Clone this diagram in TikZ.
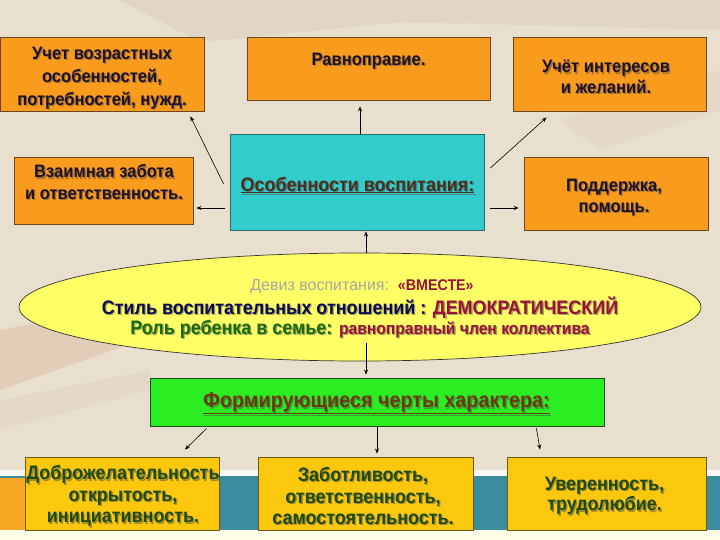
\documentclass[tikz,border=0pt]{standalone}
\usepackage{fontspec}
\setmainfont{Liberation Sans}
\newfontfamily\hb{Liberation Sans Bold}[FakeStretch=0.92]
\usetikzlibrary{arrows.meta,shapes.geometric}
\definecolor{bgbeige}{HTML}{E9DFCF}
\definecolor{bgtan}{HTML}{C9B49A}
\definecolor{pencil}{HTML}{D49A7A}
\definecolor{oran}{HTML}{F99B1C}
\definecolor{obord}{HTML}{6A4620}
\definecolor{cyanbox}{HTML}{33CCCC}
\definecolor{cbord}{HTML}{2A6A6A}
\definecolor{yel}{HTML}{FFFF66}
\definecolor{grn}{HTML}{2AEE22}
\definecolor{gbord}{HTML}{1F4A1A}
\definecolor{gold}{HTML}{FCC80E}
\definecolor{gdbord}{HTML}{6B5A20}
\definecolor{tealband}{HTML}{3A8C9E}
\definecolor{bandor}{HTML}{F6A623}
\definecolor{txtdark}{HTML}{1E1028}
\definecolor{brn}{HTML}{4A2E1E}
\definecolor{brn2}{HTML}{6B3A10}
\definecolor{navy}{HTML}{0A0A50}
\definecolor{crim}{HTML}{99103A}
\definecolor{dgreen}{HTML}{1A6A0A}
\definecolor{bgreen}{HTML}{1E4A12}
\newif\ifshad
\newcommand\cc[2]{\ifshad#2\else\textcolor{#1}{#2}\fi}
\newcommand\stext[4]{%
  \node[#1, text=black!70, text opacity=0.5, xshift=1.3pt, yshift=-1.3pt, execute at begin node=\shadtrue] (#2s) at (#3) {#4};
  \node[#1] (#2) at (#3) {#4};}
\tikzset{
  obox/.style={draw=obord, fill=oran, line width=0.8pt, inner sep=0pt},
  cbox/.style={draw=cbord, fill=cyanbox, line width=0.8pt, inner sep=0pt},
  gbox/.style={draw=gbord, fill=grn, line width=0.9pt, inner sep=0pt},
  ybox/.style={draw=gdbord, fill=gold, line width=0.9pt, inner sep=0pt},
  ell/.style={ellipse, draw=black!80, fill=yel, line width=0.7pt, inner sep=0pt},
  ttop/.style={align=center, inner sep=0pt, text=txtdark, font=\hb\fontsize{18}{23}\selectfont},
  tbot/.style={align=center, inner sep=0pt, text=bgreen, font=\hb\fontsize{19.5}{21.5}\selectfont},
  arr/.style={draw=black, line width=0.6pt, -{Stealth[length=5pt,width=4pt]}}
}
\begin{document}
\begin{tikzpicture}[x=1pt,y=-1pt]
\useasboundingbox (0,0) rectangle (720,540);
% background
\fill[bgbeige] (0,0) rectangle (720,540);
\fill[bgtan, opacity=0.22] (120,0) -- (720,0) -- (720,30) -- (400,22) -- (200,42) -- cycle;
\fill[bgtan, opacity=0.15] (560,120) -- (720,70) -- (720,110) -- (600,150) -- cycle;
\fill[pencil, opacity=0.25] (0,330) -- (230,285) -- (240,305) -- (0,390) -- cycle;
\fill[bgtan, opacity=0.15] (0,400) -- (150,370) -- (150,390) -- (0,430) -- cycle;
\fill[white, opacity=0.8] (0,470) rectangle (720,476);
\fill[tealband] (0,476) rectangle (720,530);
\fill[bandor] (0,478) rectangle (25,530);
\fill[white!90!yellow] (0,530) rectangle (720,540);

% top boxes
\node[obox, minimum width=204, minimum height=74] (b1) at (102,74) {};
\stext{ttop}{b1t}{102,78}{Учет возрастных\\особенностей,\\потребностей, нужд.}
\node[obox, minimum width=243, minimum height=63] (rav) at (368.5,68.5) {};
\stext{ttop}{ravt}{368.5,61}{Равноправие.}
\node[obox, minimum width=193, minimum height=74] (u) at (609.5,74) {};
\stext{ttop, font=\hb\fontsize{18}{20.5}\selectfont}{ut}{606,77}{Учёт интересов\\и желаний.}
\node[obox, minimum width=179, minimum height=67] (vz) at (103.5,190.5) {};
\stext{ttop, font=\hb\fontsize{18}{21.5}\selectfont}{vzt}{104,182}{Взаимная забота\\и ответственность.}
\node[obox, minimum width=184, minimum height=73] (p) at (616,193.5) {};
\stext{ttop, font=\hb\fontsize{18}{21.5}\selectfont}{pt}{614,197.5}{Поддержка,\\помощь.}
% centre box
\node[cbox, minimum width=254, minimum height=96] (c) at (357,182) {};
\stext{inner sep=0pt, text=brn, font=\hb\fontsize{19.5}{22}\selectfont}{ct}{357.5,185}{\underline{Особенности воспитания:}}
% ellipse
\node[ell, minimum width=682, minimum height=108] (e) at (360,307) {};
\node[inner sep=0pt, font=\fontsize{16}{18}\selectfont] (e1) at (362,287) {\textcolor{gray!70}{Девиз воспитания:}\ \ \textcolor{crim}{\hb\fontsize{15.5}{16}\selectfont «ВМЕСТЕ»}};
\stext{inner sep=0pt, font=\hb\fontsize{19.5}{20}\selectfont}{e2}{360,307.5}{\cc{navy}{Стиль воспитательных отношений :} \cc{crim}{ДЕМОКРАТИЧЕСКИЙ}}
\stext{inner sep=0pt, font=\hb\fontsize{19.5}{20}\selectfont}{e3}{360,329.5}{\cc{dgreen}{Роль ребенка в семье:} \cc{crim}{\fontsize{17}{18}\selectfont равноправный член коллектива}}
% green box
\node[gbox, minimum width=454, minimum height=48] (g) at (377,402) {};
\stext{inner sep=0pt, text=brn2, font=\hb\fontsize{21.5}{24}\selectfont}{gt}{376.5,403.5}{\underline{Формирующиеся черты характера:}}
% bottom boxes
\node[ybox, minimum width=194, minimum height=73] (bl1) at (122,493.5) {};
\stext{tbot}{bl1t}{123,496}{Доброжелательность\\открытость,\\инициативность.}
\node[ybox, minimum width=215, minimum height=73] (bl2) at (365.5,493.5) {};
\stext{tbot}{bl2t}{363,496}{Заботливость,\\ответственность,\\самостоятельность.}
\node[ybox, minimum width=199, minimum height=73] (bl3) at (606.5,493.5) {};
\stext{tbot, font=\hb\fontsize{19.5}{20.5}\selectfont}{bl3t}{604.5,496}{Уверенность,\\трудолюбие.}

% connectors
\draw[arr] ([shift={(-6,2)}]c.west) -- ([shift={(-14,5)}]b1.south east);
\draw[arr] ([xshift=3]c.north) -- ([shift={(-8.5,6)}]rav.south);
\draw[arr] ([shift={(6,-14)}]c.east) -- ([shift={(34,6)}]u.south west);
\draw[arr] ([shift={(-5,26)}]c.west) -- ([shift={(3,17.5)}]vz.east);
\draw[arr] ([shift={(6,26)}]c.east) -- ([shift={(-5,14.5)}]p.west);
\draw[arr] ([xshift=6]e.north) -- ([shift={(9,1)}]c.south);
\draw[arr] ([shift={(6,-18)}]e.south) -- ([shift={(-11,-3)}]g.north);
\draw[arr] ([shift={(57,2)}]g.south west) -- ([shift={(63,-7)}]bl1.north);
\draw[arr] (g.south) -- ([shift={(11.5,-3)}]bl2.north);
\draw[arr] ([shift={(-68,2)}]g.south east) -- ([shift={(-66.5,-7)}]bl3.north);
\end{tikzpicture}
\end{document}
